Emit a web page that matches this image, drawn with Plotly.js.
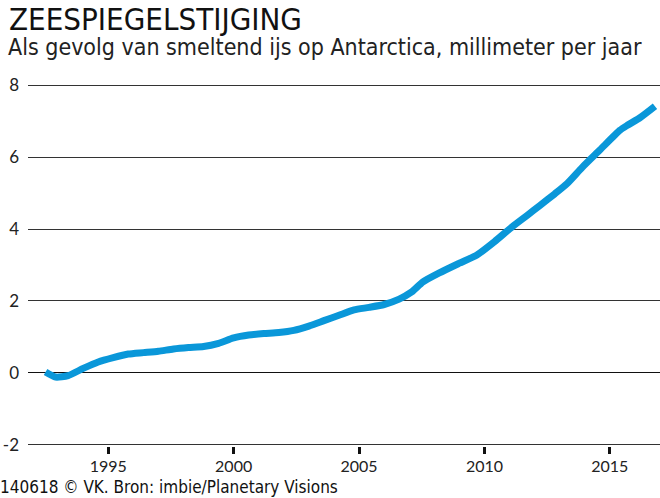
<!DOCTYPE html>
<html>
<head>
<meta charset="utf-8">
<script src="https://cdn.plot.ly/plotly-3.0.1.min.js"></script>
<style>
  html, body { margin: 0; padding: 0; background: #fff; }
  #chart { width: 660px; height: 498px; }
</style>
</head>
<body>
<div id="chart"></div>
<script>
// zeespiegelstijging door Antarctisch ijs, mm (cumulatief)
const years = [1992.5, 1992.9, 1993.4, 1994.0, 1994.6, 1995.2, 1995.8, 1996.4, 1997.0, 1997.6,
  1998.2, 1998.8, 1999.4, 2000.0, 2000.6, 2001.2, 2001.8, 2002.4, 2003.0, 2003.6, 2004.2,
  2004.8, 2005.4, 2006.0, 2006.6, 2007.1, 2007.55, 2008.2, 2009.0, 2009.7, 2010.4, 2011.1,
  2011.7, 2012.2, 2012.8, 2013.3, 2013.9, 2014.6, 2015.4, 2015.7, 2016.2, 2016.8];
const sealevel = [0.02, -0.12, -0.08, 0.12, 0.3, 0.42, 0.52, 0.56, 0.6, 0.66,
  0.7, 0.73, 0.82, 0.97, 1.05, 1.09, 1.12, 1.18, 1.3, 1.45, 1.6,
  1.75, 1.82, 1.9, 2.05, 2.25, 2.53, 2.78, 3.05, 3.28, 3.65, 4.06,
  4.38, 4.65, 4.98, 5.27, 5.72, 6.2, 6.75, 6.89, 7.1, 7.42];

const yTicks = [-2, 0, 2, 4, 6, 8];
const xTicks = [1995, 2000, 2005, 2010, 2015];

const titleText = 'ZEESPIEGELSTIJGING';
const subtitleText = 'Als gevolg van smeltend ijs op Antarctica, millimeter per jaar';
const sourceText = '140618 © VK. Bron: imbie/Planetary Visions';

const condensed = '"DejaVu Sans Condensed", "Liberation Sans Narrow", sans-serif';

const traces = [
  {
    x: years,
    y: sealevel,
    type: 'scatter',
    mode: 'lines',
    line: { color: '#0a97d9', width: 7, shape: 'spline', smoothing: 0.6 },
    hoverinfo: 'skip',
  },
];

const layout = {
  width: 660,
  height: 498,
  paper_bgcolor: '#fff',
  plot_bgcolor: '#fff',
  margin: { l: 28, r: 0, t: 84, b: 52 },
  showlegend: false,
  font: { family: 'Lato, sans-serif', color: '#222', size: 17 },
  xaxis: {
    range: [1991.8, 2017],
    tickvals: xTicks,
    ticktext: xTicks.map(String),
    ticks: 'outside',
    ticklen: 7,
    tickwidth: 3,
    tickcolor: '#111',
    showgrid: false,
    zeroline: false,
    showline: false,
    ticklabelstandoff: -1,
    tickfont: { family: 'Lato, sans-serif', size: 16, color: '#222' },
  },
  yaxis: {
    range: [-2.04, 8.04],
    tickvals: yTicks,
    ticktext: yTicks.map(String),
    showgrid: true,
    gridcolor: '#333',
    gridwidth: 1,
    zeroline: true,
    zerolinecolor: '#111',
    zerolinewidth: 1.5,
    ticks: '',
    ticklabelstandoff: 8,
    tickfont: { family: 'Lato, sans-serif', size: 17, color: '#222' },
  },
  annotations: [
    {
      text: titleText, xref: 'paper', yref: 'paper', x: -28 / 632, y: 1, yshift: 85,
      xanchor: 'left', yanchor: 'top', showarrow: false, xshift: 7,
      font: { family: condensed, size: 31, color: '#111' },
    },
    {
      text: subtitleText, xref: 'paper', yref: 'paper', x: -28 / 632, y: 1, yshift: 52,
      xanchor: 'left', yanchor: 'top', showarrow: false, xshift: 6,
      font: { family: condensed, size: 23, color: '#222' },
    },
    {
      text: sourceText, xref: 'paper', yref: 'paper', x: -28 / 632, y: 0, yshift: -53,
      xanchor: 'left', yanchor: 'bottom', showarrow: false, xshift: -2,
      font: { family: condensed, size: 17, color: '#111' },
    },
  ],
};

Plotly.newPlot('chart', traces, layout, { displayModeBar: false, staticPlot: true });
</script>
</body>
</html>
